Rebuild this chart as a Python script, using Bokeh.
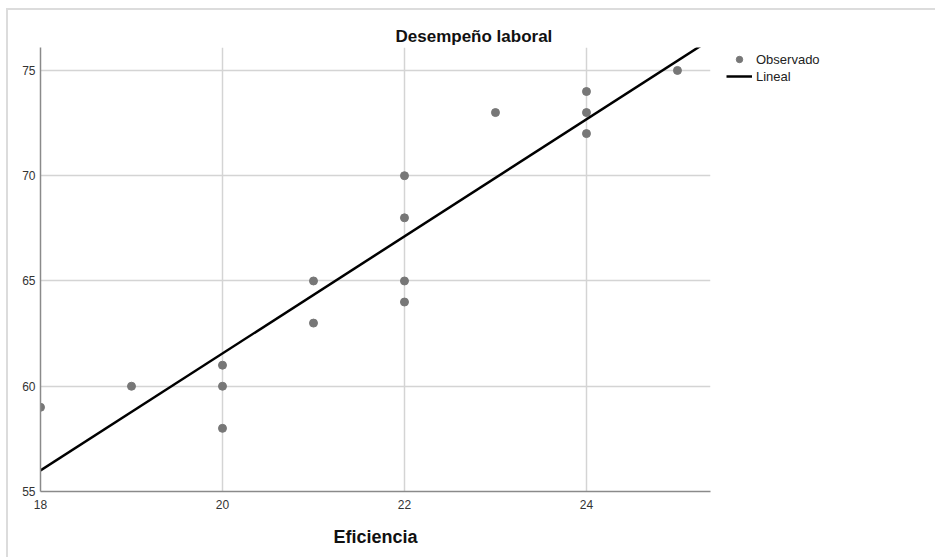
import numpy as np
from bokeh.plotting import figure
from bokeh.models import Range1d, FixedTicker, Legend, LegendItem
from bokeh.embed import file_html
from bokeh.resources import INLINE

# Data
eficiencia = [18, 19, 20, 20, 20, 21, 21, 22, 22, 22, 22, 23, 24, 24, 24, 25]
desempeno = [59, 60, 61, 60, 58, 65, 63, 70, 68, 65, 64, 73, 74, 73, 72, 75]
x_ticks = [18, 20, 22, 24]
y_ticks = [55, 60, 65, 70, 75]
title_text = "Desempeño laboral"
x_label = "Eficiencia"
legend_labels = ["Observado", "Lineal"]

X0, X1 = 18, 25.363
Y0, Y1 = 55, 76.09

FONT = "Liberation Sans"

p = figure(frame_width=670, frame_height=444, output_backend="svg", toolbar_location=None,
           x_range=Range1d(X0, X1), y_range=Range1d(Y0, Y1),
           min_border_left=40, min_border_right=0, min_border_top=47, min_border_bottom=66)
p.border_fill_color = None
p.background_fill_color = "white"
p.outline_line_color = None
p.styles = {
    "background-color": "white",
    "background-image": "linear-gradient(#dcdcdc,#dcdcdc), linear-gradient(#dcdcdc,#dcdcdc)",
    "background-size": "100% 2px, 2px 100%",
    "background-position": "6px 8px, 6px 8px",
    "background-repeat": "no-repeat",
}

p.title.text = title_text
p.title.align = "left"
p.title.offset = 355
p.title.standoff = 4
p.title.text_font = FONT
p.title.text_font_size = "17px"
p.title.text_font_style = "bold"
p.title.text_color = "#111111"

for ax in (p.xaxis[0], p.yaxis[0]):
    ax.major_tick_in = 0
    ax.major_tick_out = 0
    ax.minor_tick_in = 0
    ax.minor_tick_out = 0
    ax.axis_line_color = "#8a8a8a"
    ax.axis_line_width = 1.5
    ax.major_label_text_font = FONT
    ax.major_label_text_font_size = "12px"
    ax.major_label_text_color = "#333333"

p.xaxis.ticker = FixedTicker(ticks=x_ticks)
p.yaxis.ticker = FixedTicker(ticks=y_ticks)
p.xaxis.major_label_standoff = 8
p.yaxis.major_label_standoff = 5
p.xaxis.axis_label = x_label
p.xaxis.axis_label_text_font = FONT
p.xaxis.axis_label_text_font_size = "18px"
p.xaxis.axis_label_text_font_style = "bold"
p.xaxis.axis_label_text_color = "#111111"
p.xaxis.axis_label_standoff = 15

p.xgrid.ticker = FixedTicker(ticks=x_ticks)
p.ygrid.ticker = FixedTicker(ticks=y_ticks)
p.grid.grid_line_color = "#d4d4d4"
p.grid.grid_line_width = 1.5

pts = p.scatter(eficiencia, desempeno, size=8, color="#777777", line_color="#777777")

slope, intercept = np.polyfit(eficiencia, desempeno, 1)
lx = [X0, X1]
ly = [intercept + slope * v for v in lx]
ln = p.line(lx, ly, line_color="black", line_width=2.5)

legend = Legend(items=[LegendItem(label=legend_labels[0], renderers=[pts]),
                       LegendItem(label=legend_labels[1], renderers=[ln])],
                location=(16, 407))
legend.glyph_width = 26
legend.glyph_height = 16
legend.label_height = 16
legend.label_standoff = 4
legend.spacing = 1
legend.padding = 0
legend.margin = 0
legend.border_line_color = None
legend.background_fill_color = None
legend.label_text_font = FONT
legend.label_text_font_size = "13px"
legend.label_text_color = "#222222"
p.add_layout(legend, "right")

open("out.html", "w").write(file_html(p, INLINE))
